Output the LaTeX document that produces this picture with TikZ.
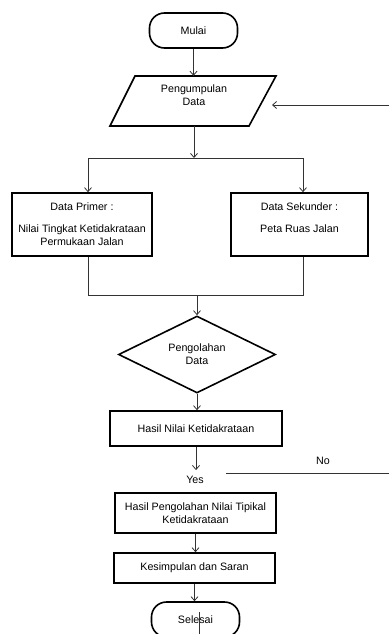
\documentclass[tikz,border=0pt]{standalone}
\usepackage{fontspec}
\setmainfont{Liberation Sans}
\usetikzlibrary{shapes.geometric,arrows.meta}

\begin{document}
\begin{tikzpicture}[x=1pt, y=-1pt,
    huruf/.style={font=\fontsize{10.7}{13}\selectfont},
    kotak/.style={huruf, draw, line width=1.6pt, rectangle, align=center},
    ujung/.style={huruf, draw, line width=1.6pt, rectangle, rounded corners=15pt, minimum width=88pt, minimum height=35pt},
    panah/.style={draw=black!80, line width=0.8pt, -{Straight Barb[length=4pt,width=7pt]}},
    garis/.style={draw=black!80, line width=0.8pt}]
    \useasboundingbox (0, 0) rectangle (389, 634);

    \node[ujung] (mulai) at (193.5, 30.5) {Mulai};

    \draw[line width=1.6pt] (110, 126) -- (135, 76) -- (276, 76) -- (249, 126) -- cycle;
    \node[huruf, align=center, minimum height=50pt, text depth=12pt] (kumpul) at (194, 101) {Pengumpulan\\Data};

    \node[kotak, minimum width=140pt, minimum height=63pt] (primer) at (82, 224.5) {Data Primer :\\[9pt]Nilai Tingkat Ketidakrataan\\Permukaan Jalan};
    \node[kotak, minimum width=137pt, minimum height=63pt] (sekunder) at (299.5, 224.5) {Data Sekunder :\\[9pt]Peta Ruas Jalan\\\mbox{}};

    \node[kotak, shape=diamond, aspect=2, inner sep=0pt, minimum width=157pt, minimum height=77pt] (olah) at (197, 354.5) {Pengolahan\\Data};
    \node[kotak, minimum width=172pt, minimum height=35pt] (hasil) at (196, 428.5) {Hasil Nilai Ketidakrataan};
    \node[huruf, inner ysep=6pt] (ya) at (195, 480) {Yes};
    \node[huruf] (tidak) at (323, 461) {No};
    \node[kotak, minimum width=161pt, minimum height=40pt] (tipikal) at (195.5, 513) {Hasil Pengolahan Nilai Tipikal\\Ketidakrataan};
    \node[kotak, minimum width=161pt, minimum height=30pt] (simpul) at (194.5, 568) {Kesimpulan dan Saran};
    \node[ujung] (selesai) at (195.5, 619.5) {Selesai};

    \coordinate (masuk) at (272, 105);
    \coordinate (luar) at (389, 105);
    \coordinate (kiri) at (88, 158);
    \coordinate (kanan) at (303, 158);
    \coordinate (cabang) at (194, 158);
    \coordinate (gabungkiri) at (88, 295);
    \coordinate (gabungkanan) at (303, 295);
    \coordinate (gabung) at (197, 295);
    \coordinate (tidakkiri) at (226, 473);
    \coordinate (tidakkanan) at (389, 473);
    \coordinate (garisatas) at (199, 612);
    \coordinate (garisbawah) at (199, 634);

    \draw[panah] (mulai) -- (mulai |- kumpul.north);
    \draw[panah] (luar) -- (masuk);
    \draw[panah] (kumpul.south) -- (cabang);
    \draw[garis] (kiri) -- (kanan);
    \draw[panah] (kiri) -- (kiri |- primer.north);
    \draw[panah] (kanan) -- (kanan |- sekunder.north);

    \draw[garis] (kiri |- primer.south) -- (gabungkiri) -- (gabungkanan) -- (kanan |- sekunder.south);
    \draw[panah] (gabung) -- (olah.north);
    \draw[panah] (olah.south) -- (olah.south |- hasil.north);
    \draw[panah] (hasil.south) -- (hasil.south |- ya.north);
    \draw[garis] (tidakkiri) -- (tidakkanan);
    \draw[panah] (tipikal.south) -- (tipikal.south |- simpul.north);
    \draw[panah] (simpul.south) -- (simpul.south |- selesai.north);
    \draw[garis] (garisatas) -- (garisbawah);
\end{tikzpicture}
\end{document}
